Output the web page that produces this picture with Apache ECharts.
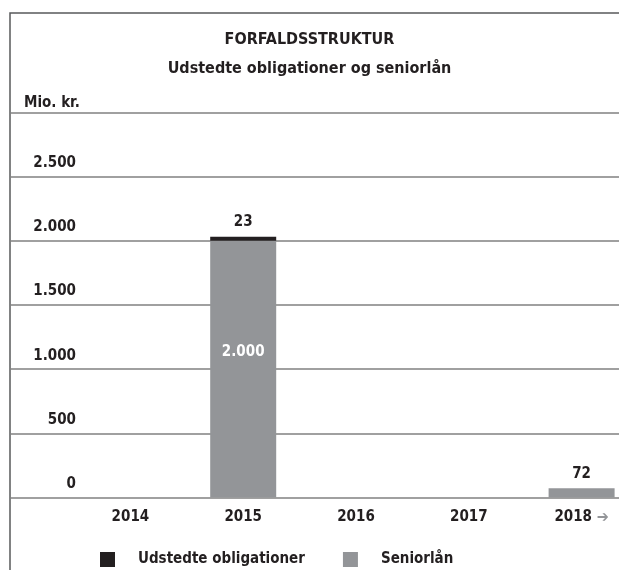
<!DOCTYPE html>
<html>
<head>
<meta charset="utf-8">
<script src="https://cdn.jsdelivr.net/npm/echarts@6/dist/echarts.min.js"></script>
<style>
  html, body { margin: 0; padding: 0; background: #fff; }
  #chart { width: 619px; height: 570px; }
</style>
</head>
<body>
<div id="chart"></div>
<script>
var FONT = "'DejaVu Sans Condensed', 'Liberation Sans', sans-serif";
var TEXT = '#231f20';
var FS = 15;

// data
var years = ['2014', '2015', '2016', '2017', '2018'];
var obligationer = [null, 23, null, null, null];
var seniorlaan = [null, 2000, null, null, 72];
var yTicks = [0, 500, 1000, 1500, 2000, 2500, 3000];

var fmt = function (v) {
    return String(v).replace(/\B(?=(\d{3})+(?!\d))/g, '.');
};

var chart = echarts.init(document.getElementById('chart'));

//seniorlån labels: big bar gets its label inside, small one on top
var seniorData = seniorlaan.map(function (v) {
    if (v === null) return null;
    var big = v > 500;
    return {
        value: v,
        label: {
            position: big ? 'inside' : 'top',
            color: big ? '#fff' : TEXT,
            offset: big ? [0, -17] : [0, -2]
        }
    };
});

var option = {
    animation: false,
    textStyle: { fontFamily: FONT, fontWeight: 'bold' },
    title: [{
        text: 'FORFALDSSTRUKTUR',
        subtext: 'Udstedte obligationer og seniorlån',
        left: 'center',
        top: 27,
        itemGap: 13,
        textStyle: { fontFamily: FONT, fontWeight: 'bold', fontSize: 16, color: TEXT },
        subtextStyle: { fontFamily: FONT, fontWeight: 'bold', fontSize: 16, color: TEXT }
    }, {
        text: 'Mio. kr.',
        left: 19,
        top: 91,
        textStyle: { fontFamily: FONT, fontWeight: 'bold', fontSize: FS, color: TEXT }
    }],
    graphic: [{
        type: 'polyline',
        shape: { points: [[10, 570], [10, 13], [619, 13]] },
        style: { stroke: '#58595b', lineWidth: 1.5, fill: null }
    }],
    legend: {
        data: ['Udstedte obligationer', 'Seniorlån'],
        left: 95,
        top: 547,
        itemWidth: 15,
        itemHeight: 15,
        itemGap: 38,
        icon: 'rect',
        textStyle: { fontFamily: FONT, fontWeight: 'bold', fontSize: FS, color: TEXT, padding: [0, 0, 0, 18] }
    },
    grid: [
        { left: 10, right: 0, top: 112.5, bottom: 72.5, outerBoundsMode: 'none' },
        { left: 74, width: 564, top: 112.5, bottom: 72.5, outerBoundsMode: 'none' }
    ],
    xAxis: [{
        gridIndex: 0, type: 'value', show: false, min: 0, max: 1
    }, {
        gridIndex: 1,
        type: 'category',
        data: years,
        axisLine: { show: false },
        axisTick: { show: false },
        axisLabel: {
            interval: 0,
            margin: 12,
            fontFamily: FONT, fontWeight: 'bold', fontSize: FS, color: TEXT,
            formatter: function (v, i) {
                return i === years.length - 1 ? v + ' {a|➔}' : v;
            },
            rich: { a: { color: '#939598', fontSize: 16 } }
        }
    }],
    yAxis: [{
        gridIndex: 0,
        type: 'value',
        min: yTicks[0],
        max: yTicks[yTicks.length - 1],
        interval: 500,
        axisLine: { show: false },
        axisTick: { show: false },
        splitLine: { lineStyle: { color: '#808080', width: 1.5 } },
        axisLabel: {
            inside: true,
            margin: 66,
            align: 'right',
            verticalAlign: 'bottom',
            padding: [0, 0, 6, 0],
            fontFamily: FONT, fontWeight: 'bold', fontSize: FS, color: TEXT,
            formatter: function (v) {
                return v >= 3000 ? '' : fmt(v);
            }
        }
    }, {
        gridIndex: 1,
        type: 'value',
        min: yTicks[0],
        max: yTicks[yTicks.length - 1],
        interval: 500,
        show: false
    }],
    series: [{
        name: 'Seniorlån',
        type: 'bar',
        stack: 'total',
        xAxisIndex: 1,
        yAxisIndex: 1,
        barWidth: 66,
        itemStyle: { color: '#939598' },
        label: {
            show: true,
            fontFamily: FONT, fontWeight: 'bold', fontSize: FS,
            formatter: function (p) { return fmt(p.value); }
        },
        data: seniorData
    }, {
        name: 'Udstedte obligationer',
        type: 'bar',
        stack: 'total',
        xAxisIndex: 1,
        yAxisIndex: 1,
        barWidth: 66,
        barMinHeight: 4,
        itemStyle: { color: '#231f20' },
        label: {
            show: true,
            position: 'top',
            offset: [0, -2],
            fontFamily: FONT, fontWeight: 'bold', fontSize: FS, color: TEXT,
            formatter: function (p) { return fmt(p.value); }
        },
        data: obligationer
    }]
};

chart.setOption(option);
</script>
</body>
</html>
